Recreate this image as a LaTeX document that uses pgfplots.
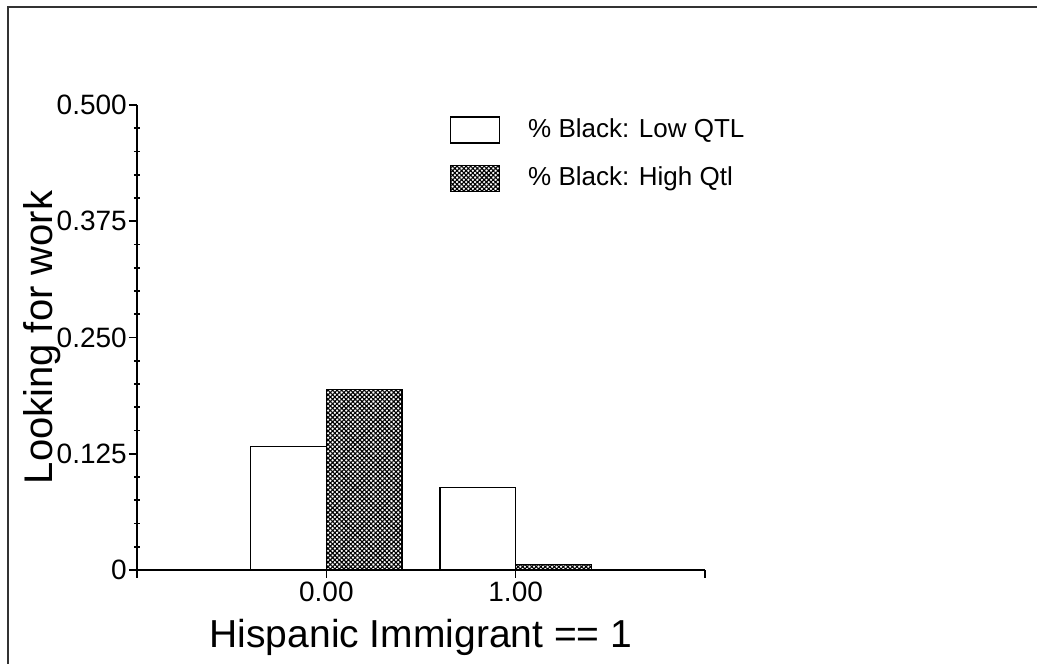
\documentclass[border=0pt]{standalone}
\usepackage{pgfplots}
\pgfplotsset{compat=1.18}
\usepackage{fontspec}
\setmainfont{Liberation Sans}
\usetikzlibrary{patterns.meta}

\pgfplotsset{
  boxlegend/.style={
    legend image code/.code={\draw[##1] (0pt,-14pt) rectangle (49pt,12pt);}},
}

\begin{document}
\begin{tikzpicture}[x=1pt,y=1pt]
\useasboundingbox (0,0) rectangle (1037,664);
% outer frame (top and left edges)
\draw[black!80, line width=1.4pt] (8,-5) -- (8,657) -- (1045,657);

\begin{axis}[
  at={(137pt,94pt)}, anchor=south west,
  scale only axis, width=568pt, height=465pt,
  xmin=-1, xmax=2, ymin=0, ymax=0.5,
  axis lines*=left,
  axis line style={line width=2pt},
  xtick={-1,0,1,2}, xticklabels={,0.00,1.00,},
  ytick={0,0.125,0.25,0.375,0.5},
  yticklabels={0,0.125,0.250,0.375,0.500},
  minor y tick num=4,
  tick align=outside,
  major tick length=8pt,
  minor tick length=6pt,
  tick style={black, line width=1.6pt},
  minor y tick style={xshift=3pt},
  /pgf/number format/assume math mode=true,
  ticklabel style={font=\fontsize{28}{33}\selectfont},
  yticklabel style={anchor=east, inner sep=0pt, xshift=-2pt},
  xticklabel style={anchor=north, inner sep=0pt, yshift=-4pt},
  ylabel={Looking for work},
  ylabel style={font=\fontsize{40}{48}\selectfont,
    at={(axis description cs:-0.1496,0.5)}, anchor=base},
  xlabel={Hispanic Immigrant == 1},
  xlabel style={font=\fontsize{39}{47}\selectfont,
    at={(axis description cs:0.5,-0.1656)}, anchor=base},
  ybar, bar width=0.4,
  legend style={at={(axis cs:0.651,0.488)}, anchor=north west,
    draw=none, fill=none, inner sep=0pt, row sep=21pt, column sep=28pt,
    font=\fontsize{26}{31}\selectfont, nodes={inner sep=0pt}},
  legend cell align=left,
]
\addplot[bar shift=-0.2, draw=black, fill=white, line width=1.2pt, boxlegend]
  coordinates {(0,0.1328) (1,0.0890)};
\addlegendentry{\% Black: Low QTL}
\addplot[bar shift=0.2, draw=black, line width=1.4pt,
  pattern={Hatch[angle=45,distance=3.2pt,line width=1.1pt]}, boxlegend]
  coordinates {(0,0.1944) (1,0.0060)};
\addlegendentry{\% Black: High Qtl}
\end{axis}
\end{tikzpicture}
\end{document}
